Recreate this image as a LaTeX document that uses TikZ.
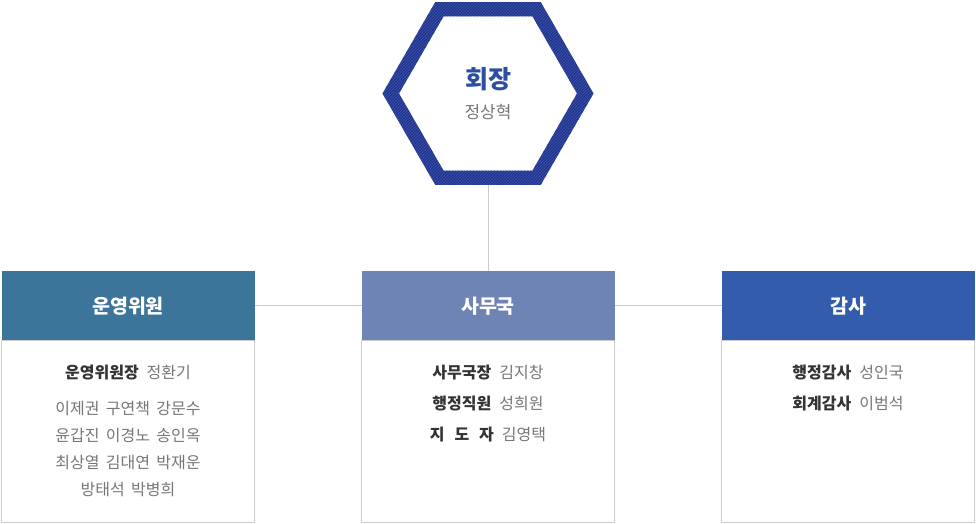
\documentclass[tikz,border=0pt]{standalone}
\usepackage{fontspec}
\setmainfont{Noto Sans CJK KR}
\usetikzlibrary{positioning,shapes.geometric,patterns,backgrounds}
\definecolor{hexblue}{RGB}{36,54,143}
\definecolor{hexstripe}{RGB}{60,84,170}
\definecolor{chairblue}{RGB}{45,79,160}
\definecolor{councilhead}{RGB}{61,116,153}
\definecolor{officehead}{RGB}{109,132,180}
\definecolor{audithead}{RGB}{52,92,172}
\definecolor{linegray}{RGB}{204,204,204}
\definecolor{rolegray}{RGB}{51,51,51}
\definecolor{namegray}{RGB}{119,119,119}
\tikzset{
	org/.style={x=1pt,y=1pt,outer sep=0pt,node distance=107pt},
	chairhex/.style={regular polygon,regular polygon sides=6,minimum size=194.5pt,inner sep=0pt,
		draw=hexblue,line width=14.3pt,fill=white},
	header/.style={rectangle,minimum width=253pt,minimum height=70pt,inner sep=0pt,
		text=white,font=\fontsize{19.5}{21}\selectfont\bfseries},
	panel/.style={rectangle,draw=linegray,line width=1pt,minimum width=253pt,
		minimum height=182pt,inner sep=0pt},
	member/.style={inner sep=0pt,text height=11.5pt,text depth=0pt,
		font=\fontsize{16}{18}\selectfont,text=namegray},
	link/.style={draw=linegray,line width=1pt}
}
\newcommand{\role}[1]{\textbf{\color{rolegray}#1}}
\newcommand{\namesep}{\hspace{0.4em}}

\begin{document}
\begin{tikzpicture}[org]
	\useasboundingbox (0,0) rectangle (976,524);
	
	% chairman
	\node[chairhex] (chair) at (488,430.5) {};
	\begin{scope}[shift={(chair.center)}]
		\fill[pattern=north east lines,pattern color=hexstripe,even odd rule]
			(0:105.5) -- (60:105.5) -- (120:105.5) -- (180:105.5) -- (240:105.5) -- (300:105.5) -- cycle
			(0:89) -- (60:89) -- (120:89) -- (180:89) -- (240:89) -- (300:89) -- cycle;
	\end{scope}
	\node[font=\fontsize{25}{27}\selectfont\bfseries,text=chairblue] (chairtitle) at ([yshift=14.5pt]chair.center) {회장};
	\node[font=\fontsize{17}{19}\selectfont,text=namegray] (chairname) at ([yshift=-18.5pt]chair.center) {정상혁};
	
	% headers
	\node[header,fill=officehead] (office) at (488,218) {사무국};
	\node[header,fill=councilhead] (council) [left= of office] {운영위원};
	\node[header,fill=audithead] (audit) [right= of office] {감사};
	
	\node[panel] (councilpanel) [below=0pt of council] {};
	\node[panel] (officepanel) [below=0pt of office] {};
	\node[panel] (auditpanel) [below=0pt of audit] {};
	
	% members
	\node[member] (c1) [below=26pt of council] {\role{운영위원장}\enspace 정환기};
	\node[member] (c2) [below=25pt of c1] {이제권\namesep 구연책\namesep 강문수};
	\node[member] (c3) [below=15.3pt of c2] {윤갑진\namesep 이경노\namesep 송인옥};
	\node[member] (c4) [below=15.3pt of c3] {최상열\namesep 김대연\namesep 박재운};
	\node[member] (c5) [below=15.3pt of c4] {방태석\namesep 박병희};
	
	\node[member] (o1) [below=26pt of office] {\role{사무국장}\enspace 김지창};
	\node[member] (o2) [below=19.5pt of o1] {\role{행정직원}\enspace 성희원};
	\node[member] (o3) [below=19.5pt of o2] {\role{\makebox[4em][s]{지\hfill 도\hfill 자}}\enspace 김영택};
	
	\node[member] (a1) [below=26pt of audit] {\role{행정감사}\enspace 성인국};
	\node[member] (a2) [below=20pt of a1] {\role{회계감사}\enspace 이범석};
	
	\begin{scope}[on background layer]
		\fill[white] (0,0) rectangle (976,524);
		\path[link] (chair) -- (office);
		\path[link] (council) -- (office);
		\path[link] (office) -- (audit);
	\end{scope}
\end{tikzpicture}
\end{document}
